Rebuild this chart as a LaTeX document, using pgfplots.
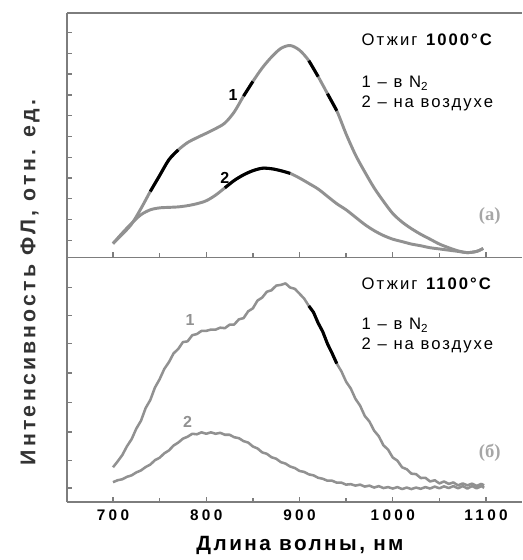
\documentclass[border=0pt]{standalone}
\usepackage{pgfplots}
\pgfplotsset{compat=1.18}
\usepackage{pgfplotstable}
\usepackage{fontspec}
\setmainfont{Liberation Sans}
\newfontfamily\serifcyr{Liberation Serif}
\definecolor{curve}{RGB}{145,145,145}
\definecolor{axgray}{RGB}{125,125,125}

% panel (a): annealing at 1000 C, smoothed spectra
\pgfplotstableread{
x y
700 0.57
710 0.95
720 1.37
730 2.0
740 2.7
750 3.35
760 4.0
770 4.4
780 4.7
790 4.9
800 5.08
810 5.27
820 5.5
830 5.95
840 6.6
850 7.2
860 7.75
870 8.2
880 8.55
890 8.67
900 8.48
910 8.05
920 7.4
930 6.7
940 6.0
950 5.05
960 4.2
970 3.5
980 2.85
990 2.3
1000 1.8
1010 1.45
1020 1.18
1030 0.95
1040 0.75
1050 0.55
1060 0.4
1070 0.27
1080 0.2
1090 0.25
1097 0.37
}\topA
\pgfplotstableread{
x y
700 0.57
710 1.0
720 1.4
730 1.75
740 1.95
750 2.03
760 2.05
770 2.07
780 2.12
790 2.2
800 2.32
810 2.55
820 2.85
830 3.15
840 3.38
850 3.55
860 3.65
870 3.63
880 3.55
890 3.44
900 3.25
910 3.03
920 2.8
930 2.5
940 2.2
950 1.95
960 1.65
970 1.35
980 1.1
990 0.9
1000 0.75
1010 0.65
1020 0.55
1030 0.48
1040 0.4
1050 0.35
1060 0.3
1070 0.25
1080 0.2
1090 0.25
1097 0.37
}\topB

% panel (b): annealing at 1100 C, raw (noisy) spectra
\pgfplotstableread{
x y
700 1.42
705 1.66
710 1.92
715 2.28
720 2.57
725 3.00
730 3.32
735 3.84
740 4.17
745 4.68
750 5.02
755 5.44
760 5.72
765 6.08
770 6.26
775 6.54
780 6.57
785 6.82
790 6.87
795 7.00
800 7.00
805 7.05
810 7.05
815 7.13
820 7.11
825 7.25
830 7.26
835 7.47
840 7.52
845 7.80
850 7.92
855 8.24
860 8.36
865 8.60
870 8.66
875 8.85
880 8.88
885 8.94
890 8.77
895 8.72
900 8.52
905 8.32
910 8.02
915 7.76
920 7.32
925 6.96
930 6.47
935 6.08
940 5.66
945 5.34
950 4.92
955 4.64
960 4.22
965 3.94
970 3.52
975 3.29
980 2.92
985 2.69
990 2.32
995 2.14
1000 1.82
1005 1.69
1010 1.42
1015 1.34
1020 1.16
1025 1.14
1030 0.98
1035 0.99
1040 0.84
1045 0.89
1050 0.76
1055 0.84
1060 0.74
1065 0.80
1070 0.68
1075 0.76
1080 0.68
1085 0.75
1090 0.66
1095 0.74
1098 0.68
}\botA
\pgfplotstableread{
x y
700 0.81
705 0.89
710 0.93
715 1.03
720 1.09
725 1.21
730 1.29
735 1.43
740 1.53
745 1.71
750 1.81
755 1.99
760 2.11
765 2.31
770 2.43
775 2.59
780 2.67
785 2.79
790 2.77
795 2.85
800 2.79
805 2.85
810 2.79
815 2.83
820 2.75
825 2.75
830 2.65
835 2.61
840 2.49
845 2.43
850 2.27
855 2.19
860 2.03
865 1.97
870 1.83
875 1.77
880 1.63
885 1.57
890 1.45
895 1.39
900 1.27
905 1.23
910 1.13
915 1.09
920 0.99
925 0.95
930 0.87
935 0.87
940 0.79
945 0.79
950 0.71
955 0.73
960 0.67
965 0.71
970 0.63
975 0.67
980 0.59
985 0.65
990 0.57
995 0.61
1000 0.55
1005 0.61
1010 0.53
1015 0.59
1020 0.53
1025 0.59
1030 0.54
1035 0.61
1040 0.55
1045 0.63
1050 0.56
1055 0.64
1060 0.57
1065 0.65
1070 0.56
1075 0.65
1080 0.55
1085 0.65
1090 0.56
1095 0.65
1098 0.58
}\botB

\pgfplotsset{
  panel/.style={
    scale only axis,
    width=341.25pt, height=183.375pt,
    xmin=650.7, xmax=1138.6,
    ymin=0, ymax=10,
    axis x line=bottom, axis y line=left,
    axis line style={-, axgray, line width=1.3pt},
    tick align=inside,
    major tick length=4pt, minor tick length=3pt,
    tick style={axgray, line width=1pt},
    xtick={700,800,900,1000,1100},
    minor xtick={750,850,950,1050},
    yticklabels={},
    clip=false,
  },
}
\tikzset{
  spec/.style={curve, line width=2.2pt, line join=round},
  hi/.style={black, line width=2.3pt},
  note/.style={font=\fontsize{12.5}{14}\selectfont\addfontfeature{LetterSpace=12}, anchor=west},
}

\begin{document}
\begin{tikzpicture}
\useasboundingbox (-50.25pt,-43.5pt) rectangle (341.25pt,376.5pt);

% lower panel
\begin{axis}[panel, at={(0,0)}, anchor=south west,
    ytick={0.57,1.71,2.86,4.08,5.27,6.49,7.63,8.78},
    xticklabels={700,800,900,1000,1100},
    xticklabel style={font=\fontsize{11.5}{13}\selectfont\bfseries\addfontfeature{LetterSpace=22}, yshift=-2pt},
]
\addplot[spec, line width=1.9pt] table {\botA};
\addplot[spec, line width=1.9pt] table {\botB};
\addplot[hi, restrict x to domain=910:940] table {\botA};
\node[note] at (axis cs:961.7,8.94) {Отжиг \textbf{1100°C}};
\node[note] at (axis cs:961.7,7.22) {1 – в N\textsubscript{2}};
\node[note] at (axis cs:961.7,6.41) {2 – на воздухе};
\node[font=\fontsize{12}{14}\selectfont\bfseries, text=curve] at (axis cs:782.6,7.43) {1};
\node[font=\fontsize{12}{14}\selectfont\bfseries, text=curve] at (axis cs:780,3.27) {2};
\node[font=\fontsize{14}{16}\selectfont\serifcyr\bfseries, text=gray!70] at (axis cs:1104,2.0) {(б)};
\end{axis}

% upper panel
\begin{axis}[panel, at={(0,183.375pt)}, anchor=south west,
    ytick={0.7,1.55,2.4,3.25,4.1,4.95,5.8,6.65,7.5,8.35,9.2},
    xticklabels={},
]
\draw[axgray, line width=1.3pt] (rel axis cs:0,1) -- (rel axis cs:1,1);
\addplot[spec, smooth] table {\topA};
\addplot[spec, smooth] table {\topB};
\addplot[hi, smooth, restrict x to domain=735:770] table {\topA};
\addplot[hi, smooth, restrict x to domain=835:855] table {\topA};
\addplot[hi, smooth, restrict x to domain=905:925] table {\topA};
\addplot[hi, smooth, restrict x to domain=928:942] table {\topA};
\addplot[hi, smooth, restrict x to domain=815:892] table {\topB};
\node[note] at (axis cs:961.7,8.89) {Отжиг \textbf{1000°C}};
\node[note] at (axis cs:961.7,7.13) {1 – в N\textsubscript{2}};
\node[note] at (axis cs:961.7,6.31) {2 – на воздухе};
\node[font=\fontsize{12}{14}\selectfont\bfseries] at (axis cs:828.7,6.64) {1};
\node[font=\fontsize{12}{14}\selectfont\bfseries] at (axis cs:820,3.24) {2};
\node[font=\fontsize{14}{16}\selectfont\serifcyr\bfseries, text=gray!70] at (axis cs:1104,1.68) {(a)};
\end{axis}

\node[rotate=90, anchor=west, text=black!80, font=\fontsize{16}{18}\selectfont\bfseries\addfontfeature{LetterSpace=15}] at (-27.75pt,24pt) {Интенсивность ФЛ, отн. ед.};
\node[font=\fontsize{15.5}{17}\selectfont\bfseries\addfontfeature{LetterSpace=12}] at (174.75pt,-32.25pt) {Длина волны, нм};
\end{tikzpicture}
\end{document}
